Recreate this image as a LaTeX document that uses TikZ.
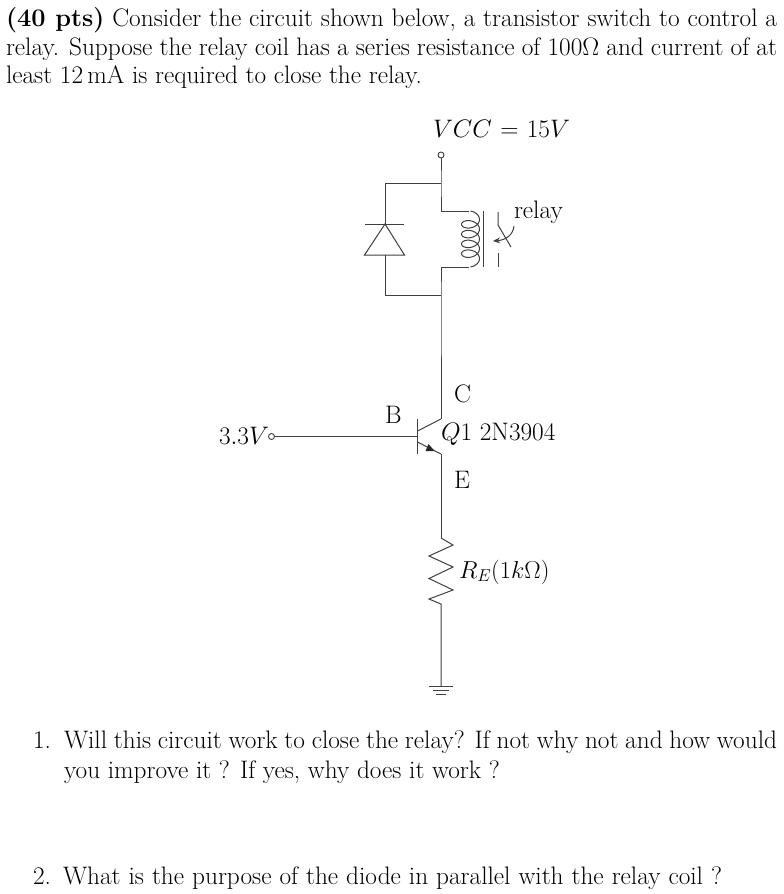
\RequirePackage{fix-cm}
\documentclass[tikz,border=0pt]{standalone}
\usetikzlibrary{arrows.meta}
\tikzset{
  wire/.style={line width=1pt,black!75,line join=miter},
  txt/.style={anchor=base west,inner sep=0pt,outer sep=0pt,text=black,font=\fontsize{25.3}{29}\selectfont},
  lbl/.style={anchor=base west,inner sep=0pt,outer sep=0pt,text=black,font=\fontsize{25.3}{29}\selectfont},
  term/.style={circle,draw=black!75,line width=0.9pt,fill=white,inner sep=0pt,minimum size=6pt}
}
\begin{document}
\begin{tikzpicture}[x=1pt,y=-1pt]
\useasboundingbox (0,0) rectangle (784,894);
% text
\node[txt] (l1) at (6,27) {\makebox[771pt][s]{\textbf{(40 pts)} Consider the circuit shown below, a transistor switch to control a}};
\node[txt] (l2) at (6,55) {\makebox[771pt][s]{relay. Suppose the relay coil has a series resistance of 100$\Omega$ and current of at}};
\node[txt] (l3) at (6,83) {least 12\,mA is required to close the relay.};
\node[txt] (n1) at (33,748) {1.};
\node[txt] (q1a) at (64,748) {\makebox[713pt][s]{Will this circuit work to close the relay? If not why not and how would}};
\node[txt] (q1b) at (64,778) {you improve it ? If yes, why does it work ?};
\node[txt] (n2) at (33,884) {2.};
\node[txt] (q2) at (63,884) {\makebox[659pt][s]{What is the purpose of the diode in parallel with the relay coil ?}};
% labels
\node[lbl] (vcc) at (433,137) {\makebox[137pt][s]{$VCC=15V$}};
\node[lbl] (rel) at (514,218) {relay};
\node[lbl] (C) at (454,402) {C};
\node[lbl] (B) at (385,423) {B};
\node[lbl] (E) at (454,488) {E};
\node[lbl] (Q) at (441,440) {$Q1$ 2N3904};
\node[lbl] (vin) at (219,444) {$3.3V$};
\node[lbl,font=\fontsize{24.5}{29}\selectfont] (RE) at (459,578) {$R_E(1k\Omega)$};
% coordinates
\node[term] (tv) at (441,155) {};
\node[term] (tb) at (271.5,436.5) {};
\coordinate (j1) at (441,183);
\coordinate (dl1) at (385,183);
\coordinate (da) at (385,224);
\coordinate (dc) at (385,255);
\coordinate (dl2) at (385,295);
\coordinate (j2) at (441,295);
\coordinate (c1) at (441,211);
\coordinate (c2) at (441,267);
\coordinate (ct) at (469,211);
\coordinate (cb) at (469,267);
\coordinate (bb) at (417.5,436.5);
\coordinate (colk) at (441,419);
\coordinate (emit) at (441,454);
\coordinate (rt) at (441,538);
\coordinate (rb) at (441,604);
\coordinate (gnd) at (441,686);
% wires
\draw[wire] (tv) -- (j1) -- (c1) -- (ct);
\draw[wire] (j1) -- (dl1) -- (da);
\draw[wire] (dc) -- (dl2) -- (j2);
\draw[wire] (cb) -- (c2) -- (j2) -- (colk);
\draw[wire] (tb) -- (bb);
% diode
\draw[wire] (da) -- (364.5,255) -- (404.5,255) -- cycle;
\draw[wire] (365,224) -- (404,224);
% coil
\draw[wire,smooth] plot[domain=-90:1530,samples=109,variable=\t] ({470.5+9*cos(\t)},{217+(\t+90)/1620*44+6*sin(\t)});
% core
\draw[wire] (483,211) -- (483,267);
% switch contacts
\draw[wire] (498,212) -- (498,225) -- (511,247);
\draw[wire] (498,253) -- (498,267);
\draw[wire,-{Stealth[length=7pt,width=6pt]}] (514,226) .. controls (513,235) and (506,240) .. (493,241);
% transistor
\draw[wire] (417.5,419) -- (417.5,454);
\draw[wire] (417.5,431) -- (colk);
\draw[wire] (417.5,442) -- (emit);
\fill[black!85] (434.5,451) -- (428.5,444) -- (425.5,451) -- cycle;
\draw[wire] (emit) -- (rt);
% resistor
\draw[wire] (rt) -- (453,545) -- (429,556) -- (453,567) -- (429,578.5) -- (453,590) -- (429,599) -- (rb) -- (gnd);
% ground
\draw[wire] (429,686) -- (453,686);
\draw[wire] (433,690) -- (449,690);
\draw[wire] (436,694) -- (446,694);
\end{tikzpicture}
\end{document}
